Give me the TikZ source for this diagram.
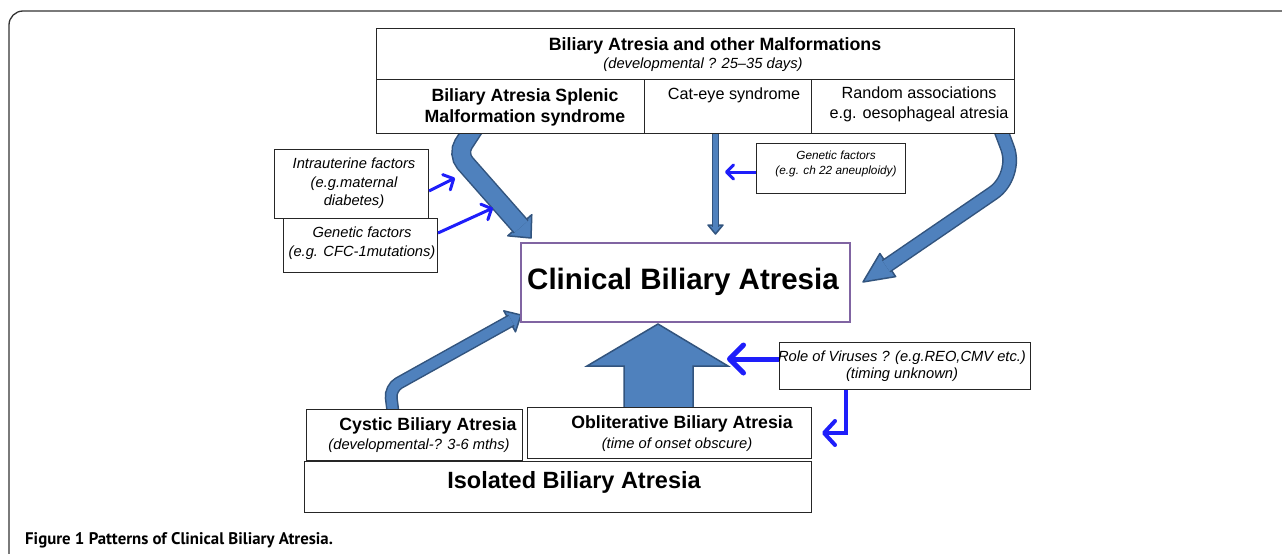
\documentclass[tikz,border=0pt]{standalone}
\usepackage{fontspec}
\setmainfont{Liberation Sans}
\newfontfamily\capfont{PT Sans}
\usetikzlibrary{arrows.meta,calc}
\definecolor{afill}{RGB}{79,129,189}
\definecolor{aedge}{RGB}{50,84,126}
\definecolor{tblue}{RGB}{30,30,250}
\definecolor{cpurple}{RGB}{128,100,162}
\newcommand{\fs}[2]{\fontsize{#1}{#2}\selectfont}
% #1 start, #2 bend, #3 tip, #4 shaft inner width, #5 head length, #6 head half width, #7 corner radius, #8 shaft end offset
\newcommand{\blockarrow}[8]{%
  \coordinate (hb) at ($(#3)!#5!(#2)$);
  \coordinate (he) at ($(#3)!#8!(#2)$);
  \draw[aedge,line width=1.5pt,fill=afill,line join=round]
    (#3) -- ($(hb)!#6!90:(#3)$) -- ($(hb)!#6!-90:(#3)$) -- cycle;
  \draw[aedge,line width=1.5pt,double=afill,double distance=#4,rounded corners=#7]
    (#1) -- (#2) -- (he);
}
\begin{document}
\begin{tikzpicture}[x=1pt,y=-1pt,
  box/.style={draw=black!85,line width=1pt,fill=white,inner sep=0pt,anchor=north west},
  txt/.style={inner sep=0pt,align=center},
  tarr/.style={draw=tblue,line width=3pt,-{Straight Barb[length=8pt,width=17pt,round]}},
]
\useasboundingbox (0,0) rectangle (1282,554);
% outer frame
\draw[black!80,line width=1.3pt,rounded corners=14pt] (9,570) -- (9,11) -- (1300,11);

% block arrows (drawn beneath the boxes)
\coordinate (s1) at (474,128); \coordinate (b1) at (457,154); \coordinate (t1) at (531,238);
\blockarrow{s1}{b1}{t1}{17pt}{17pt}{16pt}{12pt}{15pt}
\coordinate (s2) at (1000,128); \coordinate (b2) at (1018,176); \coordinate (t2) at (863,282);
\blockarrow{s2}{b2}{t2}{12pt}{30pt}{14pt}{30pt}{28pt}
\coordinate (s3) at (393,412); \coordinate (b3) at (390,388); \coordinate (t3) at (521,315);
\blockarrow{s3}{b3}{t3}{10pt}{13pt}{12pt}{10pt}{11pt}
\coordinate (s4) at (715.5,130); \coordinate (b4) at (715.5,180); \coordinate (t4) at (715.5,234);
\blockarrow{s4}{b4}{t4}{4.5pt}{9pt}{7.5pt}{1pt}{7.5pt}
% big up arrow
\draw[aedge,line width=1.5pt,fill=afill,line join=miter]
  (624,408) -- (624,366) -- (587,366) -- (658,324) -- (728,366) -- (693,366) -- (693,408) -- cycle;

% boxes
\node[box,minimum width=638pt,minimum height=51pt] (topb) at (376,28) {};
\node[box,minimum width=268pt,minimum height=54pt] (basmb) at (376,79) {};
\node[box,minimum width=167pt,minimum height=54pt] (catb) at (644,79) {};
\node[box,minimum width=203pt,minimum height=54pt] (rndb) at (811,79) {};
\node[box,minimum width=154pt,minimum height=69pt] (intb) at (274,149) {};
\node[box,minimum width=154pt,minimum height=54pt] (cfcb) at (283,218) {};
\node[box,minimum width=149pt,minimum height=50pt] (chb) at (756,143) {};
\node[box,draw=cpurple,line width=2pt,minimum width=329pt,minimum height=79pt] (clinb) at (520,242) {};
\node[box,minimum width=251pt,minimum height=47pt] (virb) at (779,342) {};
\node[box,minimum width=216pt,minimum height=51pt] (cysb) at (306,409) {};
\node[box,minimum width=284pt,minimum height=51pt] (oblb) at (527,407) {};
\node[box,minimum width=507pt,minimum height=51pt] (isob) at (304,461) {};

% texts
\node[txt,font=\fs{17.8}{20}\bfseries] (ttl) at (715,46) {Biliary Atresia and other Malformations};
\node[txt,font=\fs{14.7}{17}\itshape] (dev) at (703,65) {(developmental ? 25--35 days)};
\node[txt,font=\fs{17.7}{21}\bfseries] (basmt) at (525,107.5) {Biliary Atresia Splenic\\Malformation syndrome};
\node[txt,font=\fs{16.2}{19}] (catt) at (734,95) {Cat-eye syndrome};
\node[txt,font=\fs{16.2}{20}] (rndt) at (919,104) {Random associations\\e.g. oesophageal atresia};
\node[txt,font=\fs{14.7}{18.5}\itshape] (intt) at (354,183.5) {Intrauterine factors\\(e.g.maternal\\diabetes)};
\node[txt,font=\fs{14.7}{19}\itshape] (cfct) at (362,243.5) {Genetic factors\\(e.g. CFC-1mutations)};
\node[txt,font=\fs{11.8}{15}\itshape] (cht) at (836,163.5) {Genetic factors\\(e.g. ch 22 aneuploidy)};
\node[txt,font=\fs{29.5}{32}\bfseries] (clint) at (683,282) {Clinical Biliary Atresia};
\node[txt,font=\fs{14.7}{16.5}\itshape] (virt) at (902,366) {Role of Viruses ? (e.g.REO,CMV etc.)\\(timing unknown)};
\node[txt,font=\fs{17.7}{20}\bfseries] (cyst1) at (428,426) {Cystic Biliary Atresia};
\node[txt,font=\fs{14.7}{17}\itshape] (cyst2) at (419,446) {(developmental-? 3-6 mths)};
\node[txt,font=\fs{17.7}{20}\bfseries] (oblt1) at (682,424) {Obliterative Biliary Atresia};
\node[txt,font=\fs{14.7}{17}\itshape] (oblt2) at (677,445) {(time of onset obscure)};
\node[txt,font=\fs{23.5}{26}\bfseries] (isot) at (574,482) {Isolated Biliary Atresia};
\node[anchor=base west,inner sep=0pt,font=\capfont\fs{16.8}{19}\bfseries] (cap) at (25,544) {Figure 1 Patterns of Clinical Biliary Atresia.};

% thin blue arrows
\coordinate (a6) at (455,178);
\draw[tarr] ($(intb.north east)+(0,42)$) -- (a6);
\coordinate (a7) at (493,208);
\draw[tarr] ($(cfcb.north east)+(0,15)$) -- (a7);
\coordinate (a8) at (725,172);
\draw[tarr,-{Straight Barb[length=7pt,width=14pt,round]}] ($(chb.north west)+(0,29)$) -- (a8);
\coordinate (a9) at (727,359);
\draw[tarr,line width=5pt,-{Straight Barb[length=14pt,width=28pt,round]}] ($(virb.north west)+(0,17)$) -- (a9);
\coordinate (a10) at (822,433);
\draw[tarr,line width=4pt,-{Straight Barb[length=11pt,width=24pt,round]}] ($(virb.south west)+(67,0)$) |- (a10);
\end{tikzpicture}
\end{document}
